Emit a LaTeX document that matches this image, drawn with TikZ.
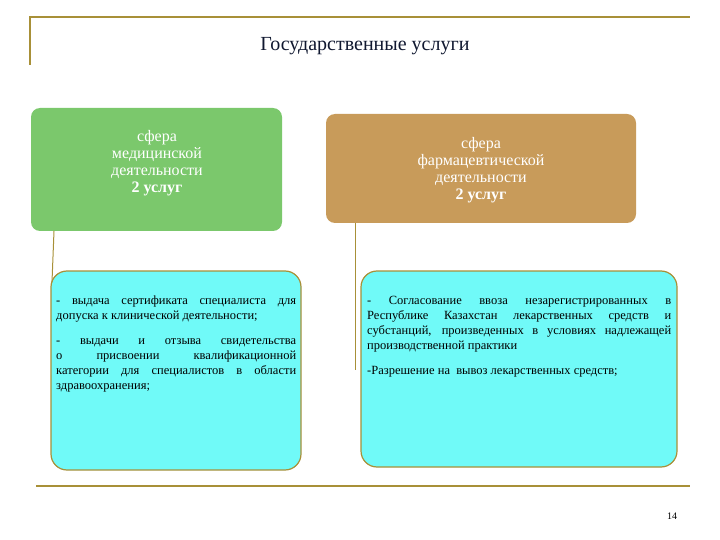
\documentclass[tikz,border=0pt]{standalone}
\usepackage{fontspec}
\setmainfont{Liberation Serif}
\begin{document}
\begin{tikzpicture}[x=1pt,y=-1pt,
  rule/.style={draw=gold,line width=1.5pt},
  topbox/.style={rounded corners=9pt,text=white,font=\fontsize{16}{17}\selectfont,align=center},
  bodybox/.style={draw=gold,line width=1.2pt,fill=cyanf,rounded corners=16pt},
  bodytext/.style={anchor=north west,align=justify,font=\fontsize{12.5}{15}\selectfont,inner sep=0pt},
  conn/.style={draw=gold,line width=1pt}]
\definecolor{gold}{HTML}{A89038}
\definecolor{greenf}{HTML}{7BC86C}
\definecolor{orangef}{HTML}{C89B5A}
\definecolor{cyanf}{HTML}{70FAF8}
\definecolor{navy}{HTML}{101830}
\useasboundingbox (0,0) rectangle (720,540);
\coordinate (tl) at (30,17); \coordinate (tr) at (690,17); \coordinate (tlb) at (30,65);
\draw[rule] (tlb) -- (tl) -- (tr);
\coordinate (bl) at (36,486); \coordinate (br) at (690,486);
\draw[rule] (bl) -- (br);
\node[text=navy,font=\fontsize{20}{22}\selectfont] (title) at (365,46) {Государственные услуги};
\node[font=\fontsize{10}{11}\selectfont] (pg) at (672,516) {14};
% top boxes
\fill[greenf,rounded corners=9pt] (31,108) rectangle (282,231);
\node[topbox] (g) at (157,163) {сфера\\медицинской\\деятельности\\\textbf{2 услуг}};
\fill[orangef,rounded corners=9pt] (326,114) rectangle (636,223);
\node[topbox] (o) at (481,170) {сфера\\фармацевтической\\деятельности\\\textbf{2 услуг}};
% body boxes
\draw[bodybox] (51,271) rectangle (301,470);
\draw[bodybox] (361,271) rectangle (677,467);
\coordinate (c1a) at (54,231); \coordinate (c1b) at (52,282);
\draw[conn] (c1a) -- (c1b);
\coordinate (c2a) at (355,223); \coordinate (c2b) at (355,370);
\draw[conn] (c2a) -- (c2b);
\node[bodytext,text width=240pt] (lt) at (56,296) {- выдача сертификата специалиста для допуска к клинической деятельности;\\[10pt]
- выдачи и отзыва свидетельства о присвоении квалификационной категории для специалистов в области здравоохранения;};
\node[bodytext,text width=304pt] (rt) at (367,296) {- Согласование ввоза незарегистрированных в Республике Казахстан лекарственных средств и субстанций, произведенных в условиях надлежащей производственной практики\\[10pt]
-Разрешение на \ вывоз лекарственных средств;};
\end{tikzpicture}
\end{document}
